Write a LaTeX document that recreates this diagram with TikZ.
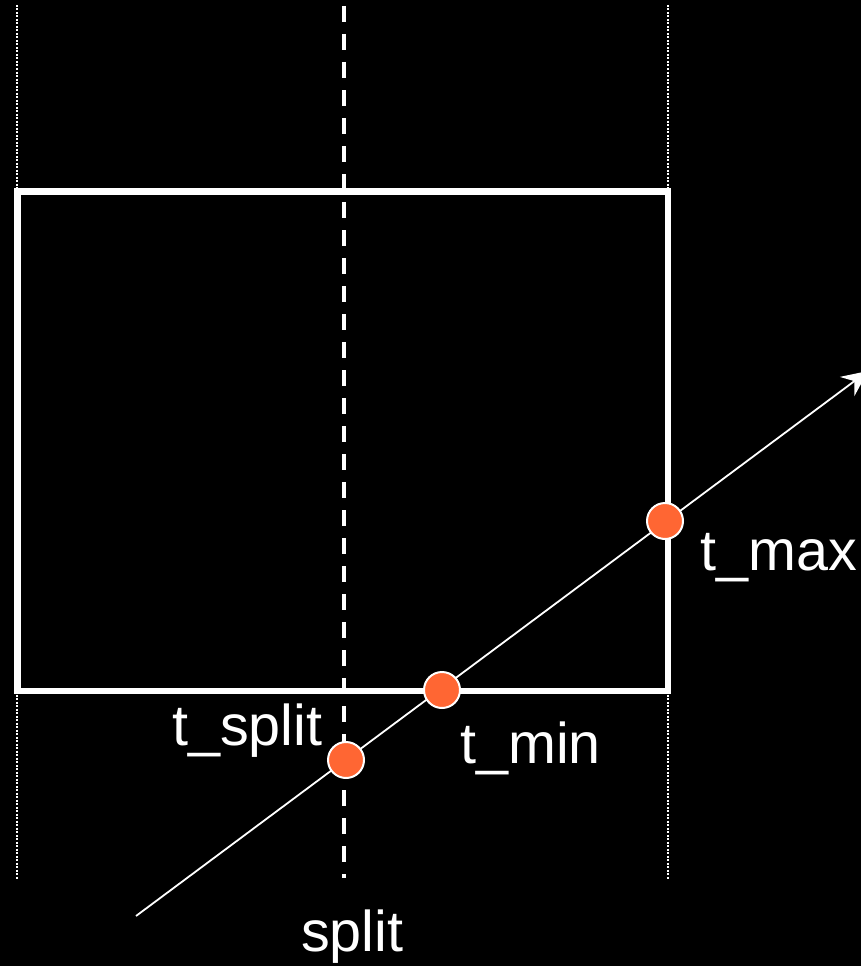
\documentclass[tikz,border=0pt]{standalone}
\usepackage{fontspec}
\setmainfont{Liberation Sans}
\usetikzlibrary{arrows.meta}
\begin{document}
\begin{tikzpicture}[x=1pt,y=-1pt,
  lbl/.style={text=white,font=\fontsize{57.5}{60}\selectfont,inner sep=0pt,anchor=base west},
  hit/.style={circle,fill={rgb,255:red,255;green,102;blue,51},draw=white,line width=2pt,minimum size=36pt,inner sep=0pt},
  dotline/.style={white,line width=1.5pt,dash pattern=on 2pt off 1.5pt},
  dashline/.style={white,line width=4pt,dash pattern=on 16pt off 12pt}]
\fill[black] (0,0) rectangle (861,966);
\useasboundingbox (0,0) rectangle (861,966);
\coordinate (l1) at (17,5); \coordinate (l2) at (17,880);
\coordinate (r1) at (668,5); \coordinate (r2) at (668,880);
\coordinate (s1) at (344,6); \coordinate (s2) at (344,878);
\draw[dotline] (l1) -- (l2);
\draw[dotline] (r1) -- (r2);
\draw[dashline] (s1) -- (s2);
\draw[white,line width=6.5pt,line join=miter] (17.5,191.5) rectangle (668,691);
\coordinate (a) at (136,916);
\coordinate (b) at (868,371);
\draw[white,line width=1.8pt,-{Stealth[length=26pt,width=24pt,inset=9pt]}] (a) -- (b);
\node[hit] (ps) at (346,760) {};
\node[hit] (pn) at (442,690) {};
\node[hit] (px) at (665,521) {};
\node[lbl] (tx) at (700,570) {t\_max};
\node[lbl] (tn) at (460,763) {t\_min};
\node[lbl,fill=black,inner ysep=2pt,inner xsep=0pt] (ts) at (172,745) {t\_split};
\node[lbl] (sp) at (301,951) {split};
\end{tikzpicture}
\end{document}
